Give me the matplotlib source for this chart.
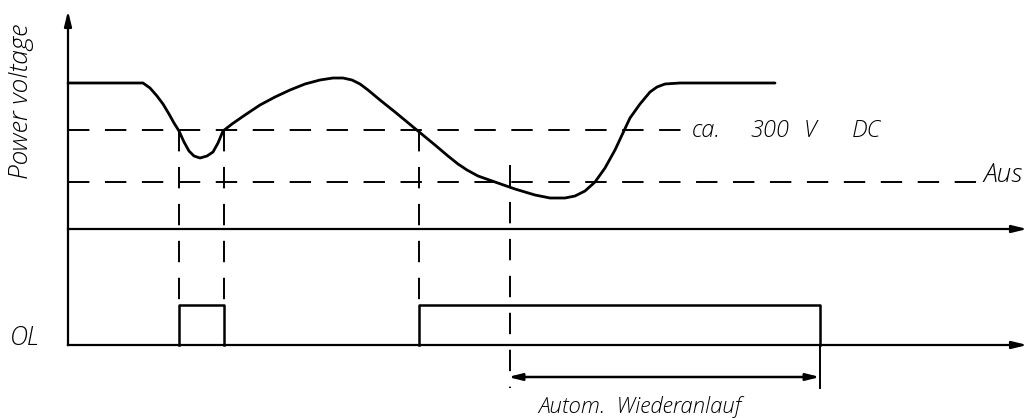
import numpy as np
import matplotlib.pyplot as plt

# drawing coordinates: x to the right, y downwards (same units as the canvas)
curve_x = [68, 143, 150, 157, 163, 169, 174, 179, 184, 189, 194, 200, 207, 213, 218, 223,
           232, 245, 260, 275, 290, 305, 320, 333, 343, 352, 360, 368, 380, 395, 418, 435, 448,
           458, 467, 478, 495, 515, 535, 550, 565, 575, 585, 595, 605, 615, 622, 630, 640, 650,
           657, 665, 680, 775]
curve_y = [83, 83, 88, 96, 104, 114, 123, 131, 142, 151, 156, 158, 156, 152, 143, 131,
           124, 115, 105, 97, 90, 84, 80, 78, 78, 80, 84, 90, 100, 112, 131, 145, 156,
           164, 170, 176, 182, 189, 195, 198, 198, 196, 191, 182, 168, 150, 135, 118, 104, 92,
           87, 84, 83, 83]

level_300 = 130      # ca. 300 V DC threshold
level_aus = 182      # switch-off threshold
time_axis = 229      # voltage time axis
ol_low = 345         # OL baseline
ol_high = 305        # OL active level

ol_pulses = [(179, 224), (419, 820)]
restart_start = 510
restart_end = 820

x0 = 68
x_end = 1030

fig = plt.figure(figsize=(10.33, 4.18), dpi=100)
ax = fig.add_axes([0, 0, 1, 1])
ax.set_xlim(0, 1033)
ax.set_ylim(418, 0)
ax.axis('off')

lw_axis = 1.6
dash = (0, (11, 8))

# axes with arrow heads
ax.plot([x0, x0], [18, ol_low], color='black', lw=lw_axis)
ax.annotate('', xy=(x0, 8), xytext=(x0, 26),
            arrowprops=dict(arrowstyle='-|>,head_length=0.9,head_width=0.22', color='black', lw=lw_axis))
for yy in (time_axis, ol_low):
    ax.plot([x0, x_end - 10], [yy, yy], color='black', lw=lw_axis)
    ax.annotate('', xy=(x_end, yy), xytext=(x_end - 20, yy),
                arrowprops=dict(arrowstyle='-|>,head_length=0.9,head_width=0.22', color='black', lw=lw_axis))

# threshold lines
ax.plot([x0, 690], [level_300, level_300], color='black', lw=1.4, linestyle=dash)
ax.plot([x0, 978], [level_aus, level_aus], color='black', lw=1.4, linestyle=dash)

# voltage curve
ax.plot(curve_x, curve_y, color='black', lw=2.0, solid_capstyle='round', solid_joinstyle='round')

# projection lines from threshold crossings down to OL
for xx in (179, 224, 419):
    ax.plot([xx, xx], [level_300, ol_high], color='black', lw=1.4, linestyle=dash)
ax.plot([restart_start, restart_start], [165, 388], color='black', lw=1.4, linestyle=dash)

# OL signal
for a, b in ol_pulses:
    ax.plot([a, a, b, b], [ol_low, ol_high, ol_high, ol_low], color='black', lw=1.8)

# restart time dimension
ax.plot([restart_end, restart_end], [ol_low, 388], color='black', lw=1.4)
ax.annotate('', xy=(restart_start - 2, 377), xytext=(restart_end, 377),
            arrowprops=dict(arrowstyle='<|-|>,head_length=0.8,head_width=0.2', color='black', lw=1.8,
                            shrinkA=0, shrinkB=0))

font = dict(family=['Open Sans', 'DejaVu Sans'], style='italic', weight='light', color='black')
ax.text(22, 101, 'Power voltage', rotation=90, ha='center', va='center', fontsize=19, **font)
for word, xx in [('ca.', 692), ('300', 750), ('V', 804), ('DC', 852)]:
    ax.text(xx, level_300 + 1, word, ha='left', va='center', fontsize=17, **font)
ax.text(983, level_aus, 'Aus', ha='left', va='baseline', fontsize=19, **font)
ax.text(10, ol_low, 'OL', ha='left', va='baseline', fontsize=18, **font)
ax.text(640, 413, 'Autom.  Wiederanlauf', ha='center', va='baseline', fontsize=16, **font)

fig.savefig('out.png', dpi=100, facecolor='white')
